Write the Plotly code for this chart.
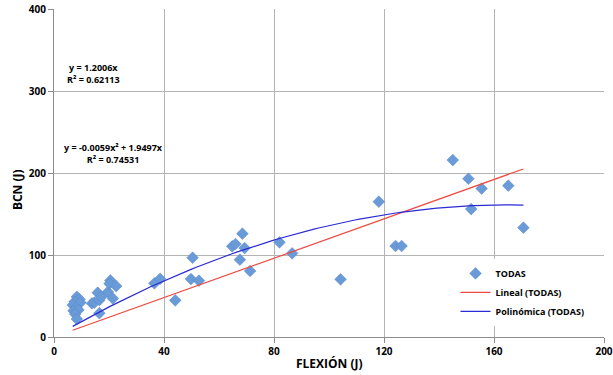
import plotly.graph_objects as go
import numpy as np

# Data
flexion = [8.3, 9.3, 7.5, 9.6, 6.8, 8.1, 7.1, 8.9, 7.7, 8.3,
           13.8, 14.7, 15.9, 16.5, 17.2, 16.5, 19.6, 20.5, 20.2, 22.6, 21.4,
           36.5, 38.6, 44.1, 50.4, 49.8, 52.7, 64.8, 66.0, 68.5, 69.3, 67.6, 71.3,
           82.0, 86.6, 104.2, 118.1, 124.2, 126.4, 145.0, 150.7, 155.5, 151.7,
           165.2, 170.7]
bcn = [49, 46, 43, 42, 39, 36, 32, 33, 28, 22,
       41, 42, 54, 45, 49, 29, 55, 69, 65, 62, 47,
       65.5, 71, 44.7, 96.7, 70.7, 68.7, 110.6, 113.4, 126, 108.5, 94.3, 80.5,
       115.5, 102, 70.3, 165, 111, 111, 215.8, 193, 181, 156,
       184.5, 133.3]

lin_a = 1.2006
poly_a = -0.0059
poly_b = 1.9497

x_ticks = [0, 40, 80, 120, 160, 200]
y_ticks = [0, 100, 200, 300, 400]

xs = np.linspace(min(flexion), max(flexion), 100)
y_lin = lin_a * xs
y_poly = poly_a * xs**2 + poly_b * xs

FONT = "Open Sans"
grid = "#b4b4b4"

fig = go.Figure()
fig.add_trace(go.Scatter(x=flexion, y=bcn, mode="markers", name="TODAS",
                         marker=dict(symbol="diamond", size=9, color="#6a9bd9",
                                     line=dict(width=0.5, color="#5a87c4"))))
fig.add_trace(go.Scatter(x=xs, y=y_lin, mode="lines", name="Lineal (TODAS)",
                         line=dict(color="#ee4a42", width=1.2)))
fig.add_trace(go.Scatter(x=xs, y=y_poly, mode="lines", name="Polinómica (TODAS)",
                         line=dict(color="#2a2ad6", width=1.2)))

ann_font = dict(family=FONT, size=9, color="black", weight="bold")
anns = [
    (14.4, 321.1, "y = 1.2006x<br>R² = 0.62113"),
    (21.6, 223.5, "y = -0.0059x² + 1.9497x<br>R² = 0.74531"),
]
for x, y, t in anns:
    fig.add_annotation(x=x, y=y, text=t, showarrow=False, font=ann_font,
                       xanchor="center", yanchor="middle", align="center")

title_font = dict(family=FONT, size=12, color="black", weight="bold")
fig.add_annotation(xref="paper", yref="paper", x=0.5, y=-0.082, text="FLEXIÓN (J)",
                   showarrow=False, font=title_font, xanchor="center", yanchor="middle")
fig.add_annotation(xref="paper", yref="paper", x=-0.066, y=0.45, text="BCN (J)",
                   textangle=-90, showarrow=False, font=title_font,
                   xanchor="center", yanchor="middle")

axis_common = dict(showgrid=True, gridcolor=grid, gridwidth=1,
                   showline=True, linecolor="#8c8c8c", linewidth=1,
                   ticks="outside", ticklen=5, tickcolor="#8c8c8c",
                   tickfont=dict(family=FONT, size=10, color="black", weight="bold"),
                   zeroline=False, automargin=False)

fig.update_xaxes(range=[0, 200], tickvals=x_ticks, **axis_common)
fig.update_yaxes(range=[0, 400], tickvals=y_ticks, **axis_common)

fig.update_layout(
    width=613, height=375,
    margin=dict(l=54, r=9, t=9, b=38, autoexpand=False),
    plot_bgcolor="white", paper_bgcolor="white",
    showlegend=True,
    legend=dict(x=0.73, y=0.238, xanchor="left", yanchor="top",
                bgcolor="white", borderwidth=0,
                font=dict(family=FONT, size=9, color="black", weight="bold"),
                itemwidth=30, tracegroupgap=0),
)

fig.write_html("out.html", config={"displayModeBar": False},
               post_script="document.body.style.margin='0';document.body.style.padding='0';")
